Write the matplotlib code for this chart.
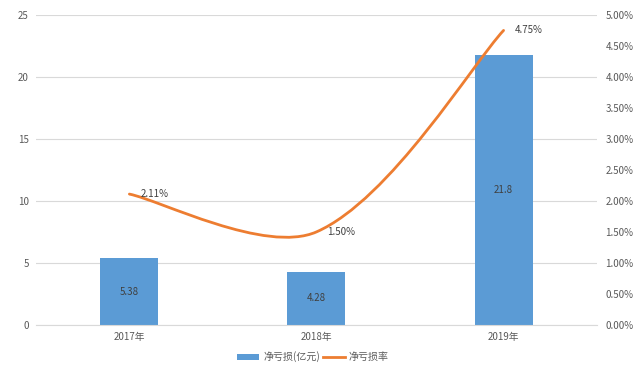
import numpy as np
import matplotlib
matplotlib.use("Agg")
import matplotlib.pyplot as plt
from matplotlib.path import Path
from matplotlib.patches import PathPatch, Patch
from matplotlib.lines import Line2D
from matplotlib.ticker import FuncFormatter, MultipleLocator

plt.rcParams['font.family'] = ['Noto Sans CJK SC', 'DejaVu Sans']

categories = ["2017年", "2018年", "2019年"]
net_loss = [5.38, 4.28, 21.8]
net_loss_text = ["5.38", "4.28", "21.8"]
loss_rate = [2.11, 1.50, 4.75]  # percent
bar_label = "净亏损(亿元)"
line_label = "净亏损率"

bar_color = "#5B9BD5"
line_color = "#ED7D31"
tick_color = "#595959"
grid_color = "#D9D9D9"

fig = plt.figure(figsize=(6.4, 3.73), dpi=100)
ax = fig.add_axes([0.056, 0.129, 0.877, 0.831])
ax2 = ax.twinx()

x = np.arange(len(categories))
ax.bar(x, net_loss, width=0.31, color=bar_color, zorder=2)
for xi, v, t in zip(x, net_loss, net_loss_text):
    ax.text(xi, v / 2, t, ha="center", va="center", fontsize=7,
            color="#404040", zorder=3)

ax.set_xlim(-0.5, len(categories) - 0.5)
ax.set_ylim(0, 25)
ax.yaxis.set_major_locator(MultipleLocator(5))
ax.set_xticks(x)
ax.set_xticklabels(categories)
ax.grid(axis="y", color=grid_color, linewidth=0.8, zorder=0)
ax.set_axisbelow(True)
for s in ax.spines.values():
    s.set_visible(False)
for s in ax2.spines.values():
    s.set_visible(False)
ax.spines['bottom'].set_visible(True)
ax.spines['bottom'].set_color(grid_color)
ax.tick_params(axis="both", length=0, labelsize=7, colors=tick_color, pad=5)
ax2.tick_params(axis="both", length=0, labelsize=7, colors=tick_color, pad=6)

ax2.set_ylim(0, 0.05)
ax2.yaxis.set_major_locator(MultipleLocator(0.005))
ax2.yaxis.set_major_formatter(FuncFormatter(lambda v, p: f"{v*100:.2f}%"))

# smoothed line (Excel-like Bezier smoothing, computed in display space)
yv = np.array(loss_rate) / 100.0
pts_d = ax2.transData.transform(np.column_stack([x.astype(float), yv]))
n = len(pts_d)
verts_d = [pts_d[0]]
codes = [Path.MOVETO]
for i in range(n - 1):
    p_prev = pts_d[i - 1] if i > 0 else pts_d[i]
    p0 = pts_d[i]
    p1 = pts_d[i + 1]
    p_next = pts_d[i + 2] if i + 2 < n else pts_d[i + 1]
    d01 = np.linalg.norm(p1 - p0)
    # outgoing control at p0
    if i > 0:
        dprev = np.linalg.norm(p0 - p_prev)
        c1 = p0 + (p1 - p_prev) * d01 / (dprev + d01) / 3.0
    else:
        c1 = p0 + (p1 - p0) / 6.0
    if i + 2 < n:
        dnext = np.linalg.norm(p_next - p1)
        c2 = p1 - (p_next - p0) * d01 / (d01 + dnext) / 3.0
    else:
        c2 = p1 - (p1 - p0) / 6.0
    verts_d += [c1, c2, p1]
    codes += [Path.CURVE4] * 3
verts = ax2.transData.inverted().transform(np.array(verts_d))
ax2.add_patch(PathPatch(Path(verts, codes), facecolor="none",
                        edgecolor=line_color, linewidth=2, capstyle="round"))
for xi, v in zip(x, loss_rate):
    ax2.annotate(f"{v:.2f}%", (xi, v / 100.0), xytext=(8, 0),
                 textcoords="offset points", ha="left", va="center",
                 fontsize=7, color="#404040")

handles = [Patch(facecolor=bar_color, label=bar_label),
           Line2D([0], [0], color=line_color, lw=2, label=line_label)]
fig.legend(handles=handles, loc="center", bbox_to_anchor=(0.489, 0.043),
           ncol=2, frameon=False, fontsize=7.2, handlelength=2.2,
           handleheight=0.6, columnspacing=0.3, handletextpad=0.4,
           labelcolor=tick_color)

fig.savefig("out.png", dpi=100)
